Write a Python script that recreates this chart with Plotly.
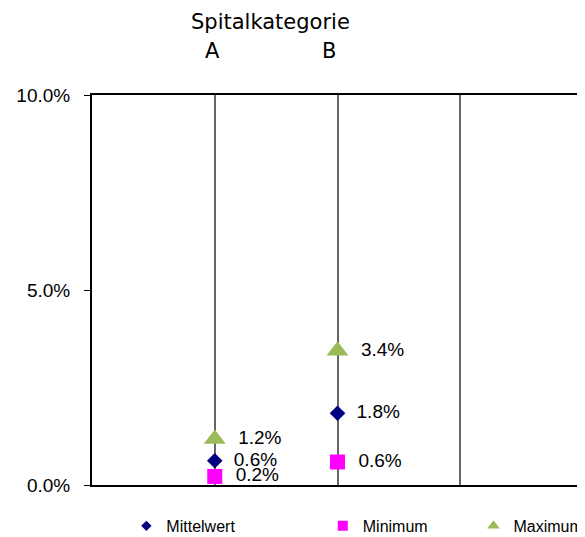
import plotly.graph_objects as go

categories = ["A", "B"]
cat_pos = [1, 2]
mittelwert = [0.0062, 0.0184]
minimum = [0.0022, 0.0059]
maximum = [0.0118, 0.0344]
y_ticks = [0.0, 0.05, 0.10]

series = [
    ("Mittelwert", mittelwert, "diamond", "#000080", 12, 8, "legend", 0.07),
    ("Minimum", minimum, "square", "#FF00FF", 15, 10, "legend2", 0.47),
    ("Maximum", maximum, "triangle-up", "#9BBB59", 19, 11, "legend3", 0.777),
]

NB = "\u00a0"
fig = go.Figure()
for name, vals, sym, col, size, lsize, lg, lx in series:
    fig.add_trace(go.Scatter(
        x=cat_pos, y=vals, mode="markers+text", name=name, showlegend=False,
        marker=dict(symbol=sym, color=col, size=size, line=dict(width=0)),
        text=[NB * 2 + f"{v*100:.1f}%" for v in vals],
        textposition="middle right",
        textfont=dict(family="Liberation Sans, Arial", size=19, color="black"),
        cliponaxis=True,
    ))
legend_cfg = {}
for name, vals, sym, col, size, lsize, lg, lx in series:
    fig.add_trace(go.Scatter(
        x=[None], y=[None], mode="markers", name=name, showlegend=True, legend=lg,
        marker=dict(symbol=sym, color=col, size=lsize, line=dict(width=0)),
    ))
    legend_cfg[lg] = dict(orientation="h", x=lx, y=-0.105, xanchor="left", yanchor="middle",
                          font=dict(family="Liberation Sans, Arial", size=16, color="black"),
                          bgcolor="rgba(0,0,0,0)", itemwidth=30)

fig.add_annotation(text="Spitalkategorie", xref="paper", yref="paper",
                   x=(270 - 92) / 491, y=1 + (95 - 22) / 390, showarrow=False,
                   xanchor="center", yanchor="middle",
                   font=dict(family="DejaVu Sans", size=21, color="black"))
for c, p, sh in zip(categories, cat_pos, [-2, -9]):
    fig.add_annotation(text=c, xref="x", yref="paper", x=p, xshift=sh,
                       y=1 + (95 - 51) / 390, showarrow=False,
                       xanchor="center", yanchor="middle",
                       font=dict(family="DejaVu Sans", size=21, color="black"))

# page body has an 8px margin, so the figure is offset by 8px
fig.update_layout(
    width=577, height=529,
    margin=dict(l=84, r=2, t=87, b=52, autoexpand=False),
    paper_bgcolor="white", plot_bgcolor="white",
    showlegend=True,
    xaxis=dict(range=[0, 4], tickvals=[1, 2, 3], showticklabels=False, automargin=False,
               showgrid=True, gridcolor="#666666", gridwidth=1.5, zeroline=False,
               showline=True, linecolor="black", linewidth=2, mirror=True, ticks=""),
    yaxis=dict(range=[0, 0.1], tickvals=y_ticks, tickformat=".1%", showgrid=False,
               automargin=False,
               zeroline=False, showline=True, linecolor="black", linewidth=2, mirror=True,
               ticks="outside", ticklen=6, tickcolor="black", ticklabelstandoff=10,
               tickfont=dict(family="Liberation Sans, Arial", size=19, color="black")),
    **legend_cfg,
)

fig.write_html("out.html")
